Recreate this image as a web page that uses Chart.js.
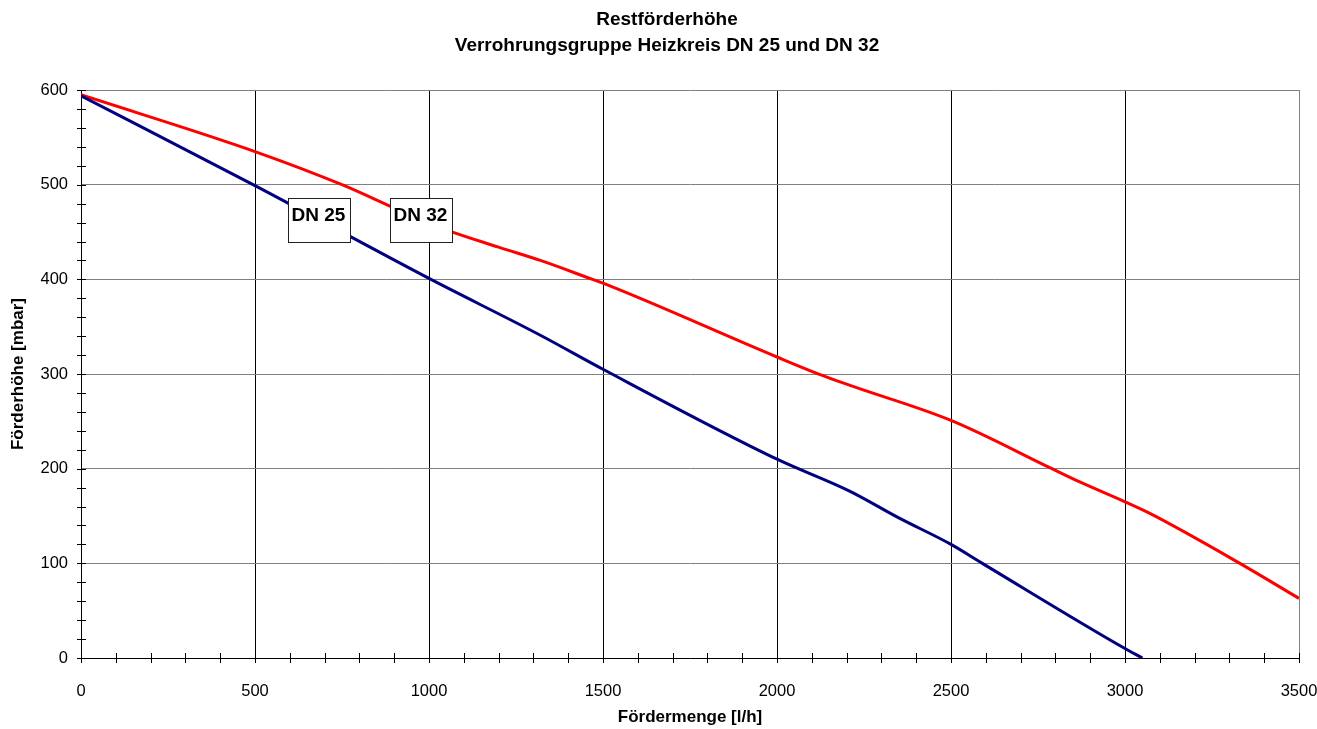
<!DOCTYPE html>
<html lang="de">
<head>
    <meta charset="UTF-8">
    <title>Restförderhöhe</title>
    <script src="https://cdn.jsdelivr.net/npm/chart.js@4.4.0/dist/chart.umd.min.js"></script>
    <style>
        body { margin: 0; background: #fff; }
        .chart-container { position: relative; width: 1317px; height: 729px; }
    </style>
</head>
<body>
    <div class="chart-container">
        <canvas id="chart"></canvas>
    </div>

    <script>
        // Daten
        const titleLines = ['Restförderhöhe', 'Verrohrungsgruppe Heizkreis DN 25 und DN 32'];
        const xTitle = 'Fördermenge [l/h]';
        const yTitle = 'Förderhöhe [mbar]';

        const dn25X = [0, 500, 1000, 1320, 1500, 2000, 2210, 2350, 2500, 2590, 3000, 3050];
        const dn25Y = [594, 499, 401, 341, 305, 210, 176, 148, 120, 100, 10, 0];

        const dn32X = [0, 500, 750, 890, 1000, 1200, 1320, 1470, 1500, 2000, 2120, 2210, 2500, 2790, 2870, 3000, 3070, 3330, 3500];
        const dn32Y = [595, 535, 500, 477, 459, 434, 420, 400, 396, 318, 300, 288, 251, 200, 186, 165, 153, 100, 63];

        // Beschriftungsboxen (Datenkoordinaten der linken oberen Ecke)
        const boxLabels = ['DN 25', 'DN 32'];
        const boxX = [595, 888];
        const boxY = [486, 486];

        const xMin = 0, xMax = 3500, xStep = 500, xMinorStep = 100;
        const yMin = 0, yMax = 600, yStep = 100, yMinorStep = 20;

        const FONT = '"Liberation Sans", Arial, sans-serif';
        const toPoints = (xs, ys) => xs.map((x, i) => ({ x: x, y: ys[i] }));

        // Kleine Striche an den Achsen (kreuzen die Achse)
        const axisTicks = {
            id: 'axisTicks',
            afterDatasetsDraw(chart) {
                const ctx = chart.ctx;
                const xs = chart.scales.x, ys = chart.scales.y;
                const area = chart.chartArea;
                ctx.save();
                ctx.strokeStyle = '#000';
                ctx.lineWidth = 1;
                ctx.beginPath();
                for (let v = xMin; v <= xMax; v += xMinorStep) {
                    const px = Math.round(xs.getPixelForValue(v)) + 0.5;
                    ctx.moveTo(px, area.bottom - 5);
                    ctx.lineTo(px, area.bottom + 5);
                }
                for (let v = yMin; v <= yMax; v += yMinorStep) {
                    const py = Math.round(ys.getPixelForValue(v)) + 0.5;
                    ctx.moveTo(area.left - 4, py);
                    ctx.lineTo(area.left + 5, py);
                }
                ctx.stroke();
                ctx.restore();
            }
        };

        const labelBoxes = {
            id: 'labelBoxes',
            afterDatasetsDraw(chart) {
                const ctx = chart.ctx;
                const xs = chart.scales.x, ys = chart.scales.y;
                ctx.save();
                ctx.font = 'bold 19px ' + FONT;
                ctx.textBaseline = 'middle';
                ctx.textAlign = 'left';
                boxLabels.forEach((txt, i) => {
                    const left = Math.round(xs.getPixelForValue(boxX[i])) + 0.5;
                    const top = Math.round(ys.getPixelForValue(boxY[i])) + 0.5;
                    ctx.fillStyle = '#fff';
                    ctx.fillRect(left, top, 62, 44);
                    ctx.strokeStyle = '#222';
                    ctx.lineWidth = 1;
                    ctx.strokeRect(left, top, 62, 44);
                    ctx.fillStyle = '#000';
                    ctx.fillText(txt, left + 3, top + 17);
                });
                ctx.restore();
            }
        };

        const lineStyle = {
            borderWidth: 3,
            pointRadius: 0,
            cubicInterpolationMode: 'monotone',
            fill: false
        };

        const ctx = document.getElementById('chart').getContext('2d');
        new Chart(ctx, {
            type: 'line',
            data: {
                datasets: [
                    Object.assign({ label: 'DN 25', data: toPoints(dn25X, dn25Y), borderColor: '#000080' }, lineStyle),
                    Object.assign({ label: 'DN 32', data: toPoints(dn32X, dn32Y), borderColor: '#FF0000' }, lineStyle)
                ]
            },
            options: {
                responsive: true,
                maintainAspectRatio: false,
                animation: false,
                layout: { padding: { left: 17, right: 0, top: 0, bottom: 0 } },
                plugins: {
                    legend: { display: false },
                    tooltip: { enabled: false },
                    title: {
                        display: true,
                        text: titleLines,
                        color: '#000',
                        font: { family: FONT, size: 19, weight: 'bold', lineHeight: 1.37 },
                        padding: { top: 7, bottom: 31 }
                    }
                },
                scales: {
                    x: {
                        type: 'linear',
                        min: xMin,
                        max: xMax,
                        afterFit(scale) {
                            scale.height = 71;
                            scale.paddingRight = 18;
                        },
                        ticks: {
                            stepSize: xStep,
                            color: '#000',
                            padding: 24,
                            maxRotation: 0,
                            callback: (v) => String(v),
                            font: { family: FONT, size: 16.5 }
                        },
                        grid: {
                            color: (c) => (c.tick && c.tick.value === xMax ? '#808080' : '#000'),
                            drawTicks: false,
                            lineWidth: 1
                        },
                        border: { color: '#000', width: 1 },
                        title: {
                            display: true,
                            text: xTitle,
                            color: '#000',
                            font: { family: FONT, size: 17, weight: 'bold' },
                            padding: { top: 0, bottom: 1 }
                        }
                    },
                    y: {
                        min: yMin,
                        max: yMax,
                        afterFit(scale) { scale.width = 64; },
                        ticks: {
                            stepSize: yStep,
                            color: '#000',
                            padding: 13,
                            callback: (v) => String(v),
                            font: { family: FONT, size: 16.5 }
                        },
                        grid: {
                            color: '#808080',
                            drawTicks: false,
                            lineWidth: 1
                        },
                        border: { color: '#000', width: 1 },
                        title: {
                            display: true,
                            text: yTitle,
                            color: '#000',
                            font: { family: FONT, size: 17, weight: 'bold' },
                            padding: { top: -9, bottom: 0 }
                        }
                    }
                }
            },
            plugins: [axisTicks, labelBoxes]
        });
    </script>
</body>
</html>
